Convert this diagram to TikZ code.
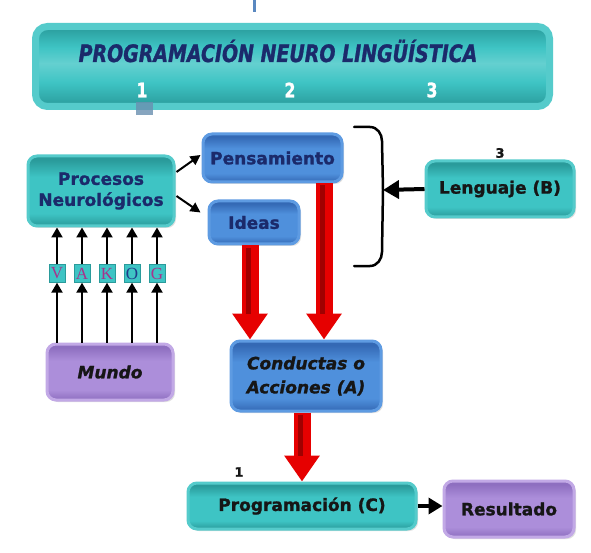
\documentclass[tikz,border=0pt]{standalone}
\usepackage{fontspec}
\setmainfont{DejaVu Sans}[BoldFeatures={FakeBold=1.2}, BoldItalicFeatures={FakeBold=1.2}]
\newfontfamily\condfont[FakeStretch=0.79, BoldFeatures={FakeBold=1.2}, BoldItalicFeatures={FakeBold=1.2}]{DejaVu Sans}
\newfontfamily\vakfont{Liberation Serif}
\usetikzlibrary{arrows.meta,shadows}
\definecolor{tealfill}{HTML}{3EC4C4}
\definecolor{tealdark}{HTML}{2A9B9B}
\definecolor{tealedge}{HTML}{55CBCB}
\definecolor{bluefill}{HTML}{4F90DC}
\definecolor{bluedark}{HTML}{3469B5}
\definecolor{blueedge}{HTML}{5E9BE2}
\definecolor{purfill}{HTML}{AC8EDA}
\definecolor{purdark}{HTML}{8E6FC0}
\definecolor{puredge}{HTML}{C2A9E6}
\definecolor{navy}{HTML}{1B2A6B}
\definecolor{inkdark}{HTML}{161616}
\definecolor{vakpink}{HTML}{A8338C}
\definecolor{vakblue}{HTML}{1F3A8A}
\definecolor{redA}{HTML}{E60000}
\definecolor{redB}{HTML}{A00000}
\definecolor{topline}{HTML}{5A88C0}
\definecolor{smallbox}{HTML}{6A8FB0}
\pgfdeclareverticalshading{tealsh}{100bp}{color(0bp)=(tealdark); color(25bp)=(tealdark); color(34bp)=(tealfill); color(60bp)=(tealfill); color(72bp)=(tealdark); color(100bp)=(tealdark)}
\pgfdeclareverticalshading{bluesh}{100bp}{color(0bp)=(bluedark); color(25bp)=(bluedark); color(34bp)=(bluefill); color(60bp)=(bluefill); color(72bp)=(bluedark); color(100bp)=(bluedark)}
\pgfdeclareverticalshading{pursh}{100bp}{color(0bp)=(purdark); color(25bp)=(purdark); color(34bp)=(purfill); color(60bp)=(purfill); color(72bp)=(purdark); color(100bp)=(purdark)}
\pgfdeclareverticalshading{bannersh}{100bp}{color(0bp)=(tealdark); color(25bp)=(tealdark); color(40bp)=(tealfill); color(52bp)=(tealfill!80!white); color(62bp)=(tealfill); color(75bp)=(tealdark); color(100bp)=(tealdark)}
\begin{document}
\begin{tikzpicture}[x=1pt,y=-1pt,
  boxbase/.style={rounded corners=9pt, line width=3pt, inner sep=0pt, align=center,
    drop shadow={opacity=0.25, shadow xshift=2pt, shadow yshift=-2pt}},
  tealbox/.style={boxbase, draw=tealedge, shading=tealsh},
  bluebox/.style={boxbase, draw=blueedge, shading=bluesh},
  purbox/.style={boxbase, draw=puredge, shading=pursh},
  boxtext/.style={font=\fontsize{17}{21}\selectfont\bfseries},
  vakbox/.style={fill=tealfill, draw=tealdark, line width=0.4pt, minimum width=16pt, minimum height=18pt, inner sep=0pt, font=\vakfont\fontsize{17}{17}\selectfont},
  blk/.style={draw=black, line width=2.2pt, -{Triangle[width=11pt,length=10pt]}},
  redarrow/.style={draw=redA, line width=17pt, -{Triangle[width=34pt,length=26pt]}},
  redcore/.style={draw=redB, line width=5pt},
  numtext/.style={font=\fontsize{13}{13}\selectfont\bfseries, text=inkdark}
]
\useasboundingbox (0,0) rectangle (591,553);
\fill[white] (0,0) rectangle (591,553);

% top line
\fill[topline] (252.5,0) rectangle (256,12);

% banner
\node[draw=tealedge, line width=7pt, rounded corners=12pt, minimum width=514pt, minimum height=80pt,
  shading=bannersh, inner sep=0pt,
  drop shadow={opacity=0.2, shadow xshift=2pt, shadow yshift=-2pt}] (banner) at (292.5,66.5) {};
\node[font=\condfont\fontsize{24}{24}\selectfont\bfseries\itshape, text=navy, anchor=base] (title) at (278,62) {PROGRAMACIÓN NEURO LINGÜÍSTICA};
\node[font=\condfont\fontsize{20}{20}\selectfont\bfseries, text=white] (n1) at (142,90) {1};
\node[font=\condfont\fontsize{20}{20}\selectfont\bfseries, text=white] (n2) at (290,90) {2};
\node[font=\condfont\fontsize{20}{20}\selectfont\bfseries, text=white] (n3) at (432,90) {3};
\fill[smallbox, opacity=0.8] (136,102) rectangle (153,115);

% boxes
\node[tealbox, boxtext, text=navy, minimum width=146pt, minimum height=70pt] (proc) at (101,191) {Procesos\\Neurológicos};
\node[bluebox, boxtext, text=navy, minimum width=139pt, minimum height=48pt] (pens) at (272.5,158) {Pensamiento};
\node[bluebox, boxtext, text=navy, minimum width=90pt, minimum height=43pt] (ideas) at (254,222.5) {Ideas};
\node[tealbox, boxtext, text=inkdark, minimum width=148pt, minimum height=56pt] (leng) at (500,189) {Lenguaje (B)};
\node[bluebox, font=\fontsize{17}{24}\selectfont\bfseries\itshape, text=inkdark, minimum width=150pt, minimum height=70pt] (cond) at (306,376) {Conductas o\\Acciones (A)};
\node[tealbox, boxtext, text=inkdark, minimum width=228pt, minimum height=46pt] (prog) at (302,506) {Programación (C)};
\node[purbox, boxtext, text=inkdark, minimum width=130pt, minimum height=56pt] (res) at (509,509) {Resultado};
\node[purbox, font=\fontsize{17}{21}\selectfont\bfseries\itshape, text=inkdark, minimum width=126pt, minimum height=56pt] (mundo) at (110,372) {Mundo};

% labels
\node[numtext] (l3) at (500,153) {3};
\node[numtext] (l1) at (239,472) {1};

% VAKOG
\node[vakbox, text=vakpink] (V) at (57,273.5) {V};
\node[vakbox, text=vakpink] (A) at (82,273.5) {A};
\node[vakbox, text=vakpink] (K) at (107,273.5) {K};
\node[vakbox, text=vakblue] (O) at (132,273.5) {O};
\node[vakbox, text=vakpink] (G) at (157,273.5) {G};

\foreach \v in {V,A,K,O,G}{
  \draw[blk] (\v.north) -- (\v.north |- proc.south);
  \draw[blk] (\v.south |- mundo.north) -- (\v.south);
}

% proc -> pens / ideas
\draw[draw=black, line width=2pt, -{Triangle[width=10pt,length=10pt]}] ([shift={(1,-19)}]proc.east) -- ([shift={(-1,-3)}]pens.west);
\draw[draw=black, line width=2pt, -{Triangle[width=10pt,length=10pt]}] ([shift={(1,5)}]proc.east) -- ([shift={(-7,-10)}]ideas.west);

% bracket
\coordinate (brk) at (383,190);
\draw[line width=2.5pt, line cap=round] (354,127) -- (370,127) to[out=0,in=90] (382,141) -- (brk) -- (382,252) to[out=-90,in=0] (370,266) -- (354,266);
\draw[draw=black, line width=4pt, -{Triangle[width=18pt,length=16pt]}] (leng.west) -- (brk);

% red arrows
\draw[redarrow] ([shift={(-4,0)}]ideas.south) -- ([shift={(-4,0)}]ideas.south |- cond.north);
\draw[redcore] ([shift={(-6,2)}]ideas.south) -- ([shift={(-6,-26)}]ideas.south |- cond.north);
\draw[redarrow] ([shift={(51.5,0)}]pens.south) -- ([shift={(51.5,0)}]pens.south |- cond.north);
\draw[redcore] ([shift={(49.5,2)}]pens.south) -- ([shift={(49.5,-26)}]pens.south |- cond.north);
\draw[redarrow] (prog.north |- cond.south) -- (prog.north);
\draw[redcore] ([shift={(-2,2)}]prog.north |- cond.south) -- ([shift={(-2,-26)}]prog.north);

% prog -> res
\draw[draw=black, line width=4pt, -{Triangle[width=16pt,length=14pt]}] (prog.east) -- (res.west |- prog.east);
\end{tikzpicture}
\end{document}
